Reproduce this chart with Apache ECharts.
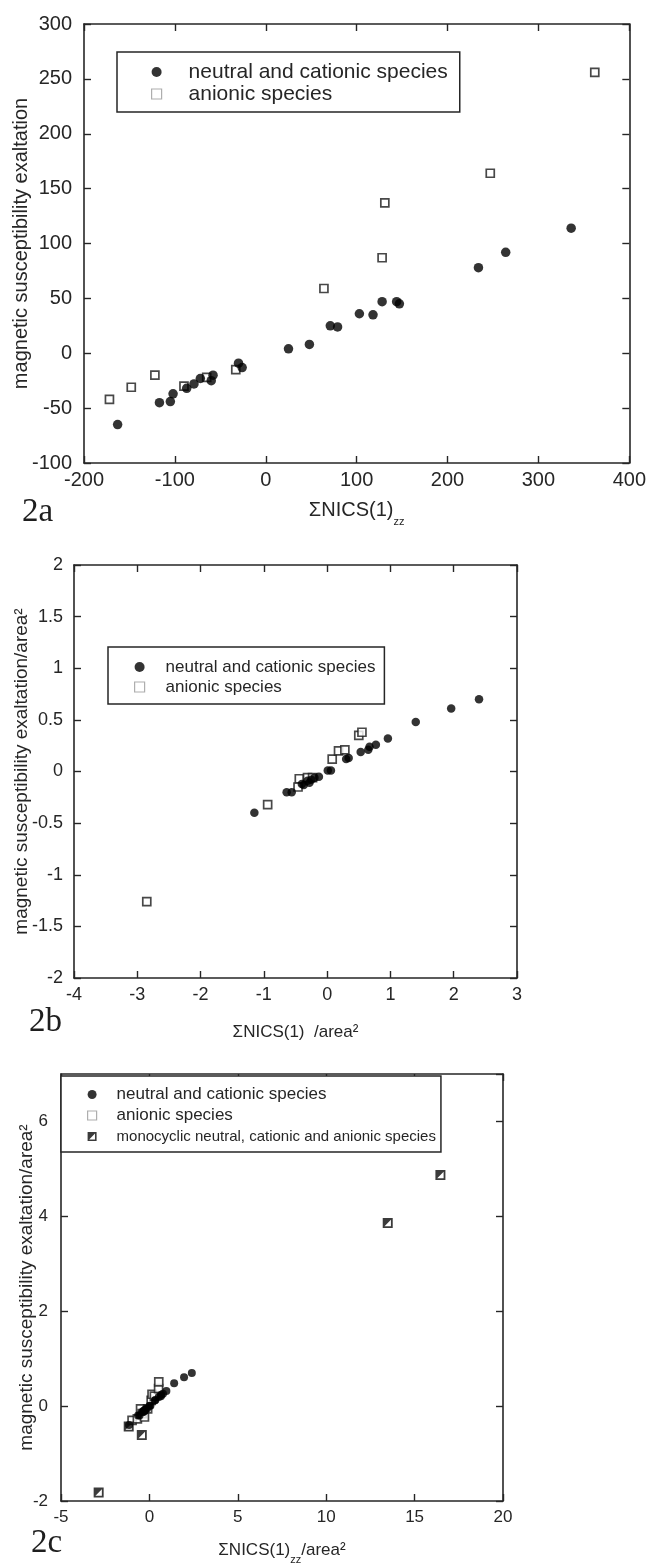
<!DOCTYPE html>
<html><head><meta charset="utf-8">
<script src="https://cdn.jsdelivr.net/npm/echarts@6/dist/echarts.min.js"></script>
<style>html,body{margin:0;padding:0;background:#fff}#c{width:649px;height:1567px}</style>
</head><body><div id="c"></div>
<script>
// ---------- data ----------
// Panel 2a: x = ΣNICS(1)zz, y = magnetic susceptibility exaltation
const neutralA = [[-163,-65],[-117,-45],[-105,-44],[-102,-37],[-87,-32],[-79,-28],[-72,-23],[-60,-25],[-58,-20],[-30,-9],[-26,-13],[25,4],[48,8],[71,25],[79,24],[103,36],[118,35],[128,47],[144,47],[147,45],[234,78],[264,92],[336,114]];
const anionicA = [[-172,-42],[-148,-31],[-122,-20],[-90,-30],[-65,-22],[-33,-15],[64,59],[128,87],[131,137],[247,164],[362,256]];
// Panel 2b: x = ΣNICS(1)zz/area², y = exaltation/area²
const neutralB = [[-1.15,-0.40],[-0.64,-0.20],[-0.56,-0.20],[-0.40,-0.12],[-0.37,-0.13],[-0.31,-0.09],[-0.28,-0.11],[-0.25,-0.08],[-0.20,-0.06],[-0.13,-0.05],[0.01,0.01],[0.06,0.01],[0.30,0.12],[0.34,0.13],[0.53,0.19],[0.65,0.21],[0.67,0.24],[0.77,0.26],[0.96,0.32],[1.40,0.48],[1.96,0.61],[2.40,0.70]];
const anionicB = [[-2.85,-1.26],[-0.94,-0.32],[-0.46,-0.15],[-0.44,-0.07],[-0.31,-0.06],[-0.23,-0.06],[0.08,0.12],[0.18,0.20],[0.28,0.21],[0.50,0.35],[0.55,0.38]];
// Panel 2c
const neutralC = [[-1.15,-0.40],[-0.64,-0.20],[-0.56,-0.20],[-0.40,-0.12],[-0.37,-0.13],[-0.31,-0.09],[-0.28,-0.11],[-0.25,-0.08],[-0.20,-0.06],[-0.13,-0.05],[0.01,0.01],[0.06,0.01],[0.30,0.12],[0.34,0.13],[0.53,0.19],[0.65,0.21],[0.67,0.24],[0.77,0.26],[0.96,0.32],[1.40,0.48],[1.96,0.61],[2.40,0.70]];
const anionicC = [[-0.98,-0.30],[-0.68,-0.27],[-0.50,-0.06],[-0.41,-0.16],[-0.28,-0.23],[-0.10,-0.06],[0.10,0.12],[0.15,0.25],[0.28,0.21],[0.52,0.37],[0.53,0.51]];
const monoC = [[-2.87,-1.82],[-1.17,-0.43],[-0.43,-0.61],[13.48,3.86],[16.46,4.87]];

const seriesNames = ['neutral and cationic species','anionic species','monocyclic neutral, cationic and anionic species'];
const panelLabels = ['2a','2b','2c'];
const yTitles = ['magnetic susceptibility exaltation','magnetic susceptibility exaltation/area\u00B2','magnetic susceptibility exaltation/area\u00B2'];
const xTitles = ['{t|\u03A3NICS(1)}{s|zz}','{t|\u03A3NICS(1)  /area\u00B2}','{t|\u03A3NICS(1)}{s|zz}{t|/area\u00B2}'];
// axis ranges [min,max,interval]
const xRanges = [[-200,400,100],[-4,3,1],[-5,20,5]];
const yRanges = [[-100,300,50],[-2,2,0.5],[-2,7,2]];

// ---------- styling ----------
const FONT = '"Liberation Sans", Arial, Helvetica, sans-serif';
const SERIF = '"Liberation Serif", "Times New Roman", serif';
const INK = '#262626';
const monoPath = 'path://M0,0H10V10H0Z M1.8,1.8V8.2H8.2V1.8Z M1.8,1.8H8.2L1.8,8.2Z';

const grids = [
  {left:84, top:24, width:546, height:439},
  {left:74, top:565, width:443, height:413},
  {left:61, top:1074, width:442, height:427}
];
const tickFont = [20, 18, 17];
const xLabMargin = [7, 8, 8];
const yLabMargin = [12, 11, 13];
const xNameGap = [30, 39, 34];
const xNameFont = [20, 17, 17];
const xNameLH = [34, 30, 30];
const yNameGap = [53, 43, 25];
const yNameFont = [20, 19, 19];

function axis(gi, r, pos, labels, extra) {
  return Object.assign({
    type:'value', gridIndex:gi, min:r[0], max:r[1], interval:r[2], position:pos,
    nameMoveOverlap:false,
    splitLine:{show:false},
    axisLine:{show:true, onZero:false, lineStyle:{color:INK, width:1.6}},
    axisTick:{show:true, inside:true, length:7, lineStyle:{color:INK, width:1.4}},
    axisLabel:{show:labels, color:INK, fontFamily:FONT, fontSize:tickFont[gi], hideOverlap:false,
      showMaxLabel: !(gi===2 && (pos==='left'))},
  }, extra || {});
}

const xAxis = [], yAxis = [];
for (let g = 0; g < 3; g++) {
  xAxis.push(axis(g, xRanges[g], 'bottom', true, {
    name: xTitles[g], nameLocation:'middle', nameGap:xNameGap[g],
    nameTextStyle:{fontFamily:FONT, color:INK, fontSize:xNameFont[g],
      rich:{
        t:{fontFamily:FONT, color:INK, fontSize:xNameFont[g], lineHeight:xNameLH[g]},
        s:{fontFamily:FONT, color:INK, fontSize:11, lineHeight:12, verticalAlign:'bottom'}
      }}
  }));
  xAxis[xAxis.length-1].axisLabel.margin = xLabMargin[g];
  xAxis.push(axis(g, xRanges[g], 'top', false));
  yAxis.push(axis(g, yRanges[g], 'left', true, {
    name: yTitles[g], nameLocation:'middle', nameGap:yNameGap[g],
    nameTextStyle:{fontFamily:FONT, color:INK, fontSize:yNameFont[g]}
  }));
  yAxis[yAxis.length-1].axisLabel.margin = yLabMargin[g];
  yAxis.push(axis(g, yRanges[g], 'right', false));
}

function circles(gi, data, size) {
  return {type:'scatter', name:seriesNames[0], xAxisIndex:gi*2, yAxisIndex:gi*2, data,
    symbol:'circle', symbolSize:size, itemStyle:{color:'#000'}, z:3, silent:true};
}
function squares(gi, data, size) {
  return {type:'scatter', name:seriesNames[1], xAxisIndex:gi*2, yAxisIndex:gi*2, data,
    symbol:'rect', symbolSize:size, itemStyle:{color:'#fff', borderColor:'#1a1a1a', borderWidth:1.7}, z:2, silent:true};
}
function monos(gi, data, size) {
  return {type:'scatter', name:seriesNames[2], xAxisIndex:gi*2, yAxisIndex:gi*2, data,
    symbol:monoPath, symbolKeepAspect:true, symbolSize:size, itemStyle:{color:'#0a0a0a'}, z:4, silent:true};
}

const series = [
  squares(0, anionicA, 8), circles(0, neutralA, 9.5),
  squares(1, anionicB, 8), circles(1, neutralB, 8.5),
  squares(2, anionicC, 8), circles(2, neutralC, 8), monos(2, monoC, 10)
];

const anionicIcon = {name:seriesNames[1], icon:'rect', itemStyle:{color:'#fff', borderColor:'#9a9a9a', borderWidth:1.2}};
function legend(left, top, pad, fs, lh, textPad, iw, items) {
  return {left, top, orient:'vertical', itemWidth:iw, itemHeight:iw, itemGap:0, padding:pad,
    borderColor:INK, borderWidth:1.5, backgroundColor:'#fff', selectedMode:false, z:6,
    textStyle:{fontFamily:FONT, fontSize:fs, lineHeight:lh, color:INK, padding:[0,0,0,textPad]},
    data:items};
}

const option = {
  animation:false,
  backgroundColor:'#fff',
  grid: grids,
  xAxis, yAxis, series,
  legend: [
    legend(117, 52, [9,12,7,34], 21, 22, 22, 10, [{name:seriesNames[0], icon:'circle'}, anionicIcon]),
    legend(108, 647, [10,9,7,26], 17, 20, 16, 10, [{name:seriesNames[0], icon:'circle'}, anionicIcon]),
    legend(61, 1076, [8,5,5,26], 17, 21, 15, 9, [
      {name:seriesNames[0], icon:'circle'}, anionicIcon,
      {name:seriesNames[2], icon:monoPath, textStyle:{fontSize:15}}])
  ],
  graphic: [
    {type:'text', left:22, top:496, style:{text:panelLabels[0], fontFamily:SERIF, fontSize:33, fill:'#1e1e1e'}},
    {type:'text', left:29, top:1006, style:{text:panelLabels[1], fontFamily:SERIF, fontSize:33, fill:'#1e1e1e'}},
    {type:'text', left:31, top:1527, style:{text:panelLabels[2], fontFamily:SERIF, fontSize:33, fill:'#1e1e1e'}}
  ]
};
const chart = echarts.init(document.getElementById('c'), null, {renderer:'canvas'});
chart.setOption(option);
</script></body></html>
